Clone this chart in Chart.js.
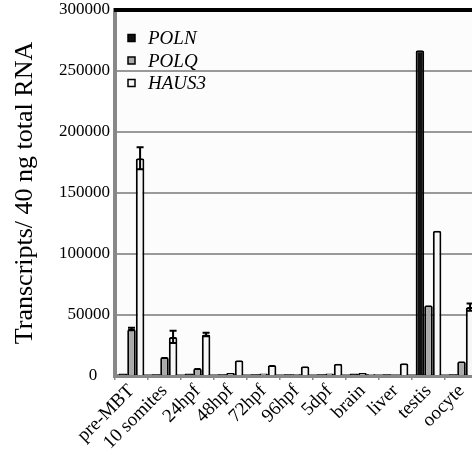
<!DOCTYPE html>
<html><head><meta charset="utf-8">
<script src="https://cdn.jsdelivr.net/npm/chart.js@4/dist/chart.umd.min.js"></script>
<style>html,body{margin:0;padding:0;overflow:hidden;background:#fff;width:472px;height:453px}canvas{display:block}</style>
</head><body>
<canvas id="c" width="490" height="453" style="width:490px;height:453px"></canvas>
<script>
const categories = ["pre-MBT","10 somites","24hpf","48hpf","72hpf","96hpf","5dpf","brain","liver","testis","oocyte"];
const polnValues  = [2000, 1500, 2000, 1500, 1500, 1500, 1500, 2000, 1500, 267000, 1500];
const polqValues  = [38500, 15600, 6500, 2500, 2000, 1500, 2000, 2500, 1000, 58000, 12000];
const haus3Values = [178500, 32000, 34000, 13000, 9000, 8000, 10000, 1500, 10500, 119000, 56500];
const polqErrors  = [1000, 0, 0, 0, 0, 0, 0, 0, 0, 0, 0];
const haus3Errors = [9000, 5000, 1500, 0, 0, 0, 0, 0, 0, 0, 3000];
const yTicks = [0, 50000, 100000, 150000, 200000, 250000, 300000];

const SERIF = '"Liberation Serif","Times New Roman",serif';

const bgPlugin = {
  id: 'bg',
  beforeDraw(chart) {
    const {ctx, chartArea:a} = chart;
    ctx.save();
    ctx.fillStyle = '#fcfcfc';
    ctx.fillRect(a.left, a.top, a.right - a.left, a.bottom - a.top);
    ctx.restore();
  }
};

const overlayPlugin = {
  id: 'overlay',
  afterDatasetsDraw(chart) {
    const {ctx, chartArea:a} = chart;
    const ys = chart.scales.y;
    ctx.save();
    chart.data.datasets.forEach((ds, di) => {
      if (!ds.errors) return;
      const meta = chart.getDatasetMeta(di);
      meta.data.forEach((bar, i) => {
        const e = ds.errors[i];
        if (!e) return;
        const v = ds.data[i];
        const yt = ys.getPixelForValue(v + e);
        const yb = ys.getPixelForValue(v - e);
        ctx.strokeStyle = '#000';
        ctx.lineWidth = 2;
        ctx.beginPath();
        ctx.moveTo(bar.x, yt); ctx.lineTo(bar.x, yb);
        ctx.moveTo(bar.x - 3.5, yt); ctx.lineTo(bar.x + 3.5, yt);
        ctx.moveTo(bar.x - 3.5, yb); ctx.lineTo(bar.x + 3.5, yb);
        ctx.stroke();
      });
    });
    ctx.strokeStyle = '#000';
    ctx.lineWidth = 4;
    ctx.beginPath();
    ctx.moveTo(a.left - 1, a.top); ctx.lineTo(a.right + 20, a.top);
    ctx.stroke();
    const lx = a.left + 13, ly0 = a.top + 28, step = 22.5;
    ctx.font = 'italic 19px ' + SERIF;
    ctx.textBaseline = 'middle';
    chart.data.datasets.forEach((ds, i) => {
      const y = ly0 + i * step;
      ctx.fillStyle = ds.backgroundColor;
      ctx.fillRect(lx, y - 3.5, 7, 7);
      ctx.strokeStyle = '#000';
      ctx.lineWidth = 1.5;
      ctx.strokeRect(lx, y - 3.5, 7, 7);
      ctx.fillStyle = '#000';
      ctx.fillText(ds.label, lx + 20, y + 1);
    });
    ctx.restore();
  }
};

new Chart(document.getElementById('c'), {
  type: 'bar',
  data: {
    labels: categories,
    datasets: [
      {label: 'POLN',  data: polnValues,  backgroundColor: '#111111', borderColor: '#000', borderWidth: 2, borderRadius: 2},
      {label: 'POLQ',  data: polqValues,  backgroundColor: '#aaaaaa', borderColor: '#000', borderWidth: 2, borderRadius: 2, errors: polqErrors},
      {label: 'HAUS3', data: haus3Values, backgroundColor: '#f7f7f7', borderColor: '#000', borderWidth: 2, borderRadius: 2, errors: haus3Errors}
    ]
  },
  options: {
    responsive: false,
    animation: false,
    layout: {padding: {left: 0, top: 10, right: 12, bottom: 0}},
    categoryPercentage: 0.78,
    barPercentage: 1.0,
    plugins: {legend: {display: false}, tooltip: {enabled: false}},
    scales: {
      x: {
        grid: {display: true, drawOnChartArea: false, drawTicks: true, tickLength: 4, color: '#888', lineWidth: 1.5, offset: true},
        border: {display: true, color: '#888', width: 4},
        ticks: {color: '#000', font: {family: SERIF, size: 19}, minRotation: 45, maxRotation: 45, padding: 0, autoSkip: false},
        afterFit(s) { s.height = 77; }
      },
      y: {
        min: 0, max: 300000,
        afterBuildTicks(s) { s.ticks = yTicks.map(v => ({value: v})); },
        grid: {color: '#999', lineWidth: 2, drawTicks: false},
        border: {display: true, color: '#888', width: 4},
        ticks: {color: '#000', font: {family: SERIF, size: 17}, padding: 5,
                callback: (v) => v === 0 ? '0   ' : String(v)},
        title: {display: true, text: 'Transcripts/ 40 ng total RNA', color: '#000', font: {family: SERIF, size: 26}, padding: {top: 10, bottom: 0}},
        afterFit(s) { s.width = 115; s.paddingTop = 0; s.paddingBottom = 0; }
      }
    }
  },
  plugins: [bgPlugin, overlayPlugin]
});
</script>
</body></html>
